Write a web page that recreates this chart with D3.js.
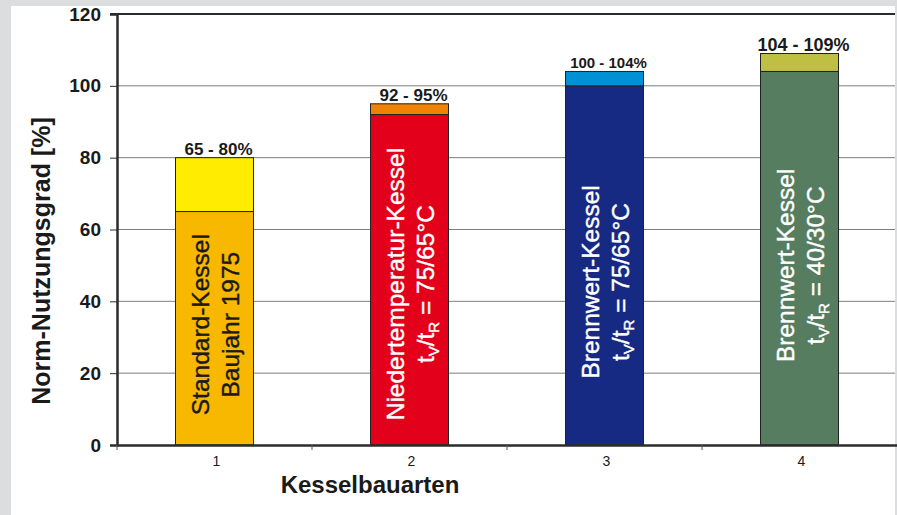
<!DOCTYPE html>
<html>
<head>
<meta charset="utf-8">
<script src="https://cdn.jsdelivr.net/npm/d3@7"></script>
<style>
  body { margin: 0; background: #dcdddf; }
  svg { display: block; font-family: "Liberation Sans", Arial, sans-serif; }
</style>
</head>
<body>
<div id="chart"></div>
<script>
// data
var categories = ["1", "2", "3", "4"];
var lowValues = [65, 92, 100, 104];
var highValues = [80, 95, 104, 109];
var rangeLabels = ["65 - 80%", "92 - 95%", "100 - 104%", "104 - 109%"];
var nameLines = ["Standard-Kessel", "Niedertemperatur-Kessel", "Brennwert-Kessel", "Brennwert-Kessel"];
var detailLines = ["Baujahr 1975", "75/65°C", "75/65°C", "40/30°C"];
var yTicks = [0, 20, 40, 60, 80, 100, 120];

// styles / layout
var lowColors = ["#f9b800", "#e2001a", "#172a83", "#567d5f"];
var highColors = ["#ffec00", "#ef8200", "#0090d4", "#bfbf44"];
var textColors = ["#1a1a1a", "#fff", "#fff", "#fff"];
var rangeFont = [17, 17, 15, 18];
var labelMid = [33.5, 44.8, 45.4, 50];   // label centre, in axis units

var W = 897, H = 515;
var svg = d3.select("#chart").append("svg")
    .attr("width", W)
    .attr("height", H);

// white panel
svg.append("rect")
    .attr("x", 11).attr("y", 6)
    .attr("width", 884).attr("height", H - 6)
    .attr("fill", "#fff");

var x = d3.scaleBand()
    .domain(categories)
    .range([117, 897])
    .paddingInner(0.6)
    .paddingOuter(0.3);

var y = d3.scaleLinear()
    .domain([0, 120])
    .range([445, 14]);

// gridlines
svg.append("g")
    .selectAll("line")
    .data(yTicks.filter(d => d > 0 && d < 120))
    .enter().append("line")
    .attr("x1", 117).attr("x2", 895)
    .attr("y1", d => y(d)).attr("y2", d => y(d))
    .attr("stroke", "#7d7d7d")
    .attr("stroke-width", 1);

// top line
svg.append("line")
    .attr("x1", 110).attr("x2", 895)
    .attr("y1", y(120)).attr("y2", y(120))
    .attr("stroke", "#2b2b2b").attr("stroke-width", 2);

// bars
var bars = svg.append("g")
    .selectAll("g")
    .data(categories)
    .enter().append("g");

bars.append("rect")
    .attr("x", (d, i) => x(d))
    .attr("y", (d, i) => y(lowValues[i]))
    .attr("width", x.bandwidth())
    .attr("height", (d, i) => y(0) - y(lowValues[i]))
    .attr("fill", (d, i) => lowColors[i])
    .attr("stroke", "#222")
    .attr("stroke-width", 1);

bars.append("rect")
    .attr("x", (d, i) => x(d))
    .attr("y", (d, i) => y(highValues[i]))
    .attr("width", x.bandwidth())
    .attr("height", (d, i) => y(lowValues[i]) - y(highValues[i]))
    .attr("fill", (d, i) => highColors[i])
    .attr("stroke", "#222")
    .attr("stroke-width", 1);

bars.append("text")
    .attr("x", (d, i) => x(d) + x.bandwidth() / 2 + 4)
    .attr("y", (d, i) => y(highValues[i]) - 3)
    .attr("text-anchor", "middle")
    .attr("font-weight", "bold")
    .attr("font-size", (d, i) => rangeFont[i] + "px")
    .attr("fill", "#1a1a1a")
    .text((d, i) => rangeLabels[i]);

// rotated labels inside bars
bars.each(function (d, i) {
    var g = d3.select(this);
    var cx = x(d) + x.bandwidth() / 2;
    var cy = y(labelMid[i]);
    var t = g.append("g")
        .attr("transform", "translate(" + cx + "," + cy + ") rotate(-90)")
        .attr("fill", textColors[i])
        .attr("stroke", textColors[i])
        .attr("stroke-width", 0.4)
        .attr("font-size", "24.5px")
        .attr("text-anchor", "middle");
    t.append("text")
        .attr("x", 0).attr("y", -6)
        .text(nameLines[i]);
    var l2 = t.append("text")
        .attr("x", 0).attr("y", 24);
    if (i === 0) {
        l2.text(detailLines[i]);
    } else {
        l2.append("tspan").text("t");
        l2.append("tspan").attr("font-size", "15px").attr("dy", 5).text("V");
        l2.append("tspan").attr("dy", -5).text("/t");
        l2.append("tspan").attr("font-size", "15px").attr("dy", 5).text("R");
        l2.append("tspan").attr("dy", -5).text(" = " + detailLines[i]);
    }
});

// y axis
var yAxis = svg.append("g")
    .attr("transform", "translate(117,0)")
    .call(d3.axisLeft(y).tickValues(yTicks).tickSize(7).tickPadding(9));
yAxis.select(".domain").attr("stroke", "#2b2b2b").attr("stroke-width", 2.5);
yAxis.selectAll(".tick line").attr("stroke", "#2b2b2b");
yAxis.selectAll(".tick text")
    .attr("font-family", "Liberation Sans, Arial, sans-serif")
    .attr("font-size", "19px")
    .attr("font-weight", "bold")
    .attr("fill", "#1a1a1a");

// x axis
var xAxis = svg.append("g")
    .attr("transform", "translate(0,445)")
    .call(d3.axisBottom(x).tickSize(0).tickPadding(11));
xAxis.select(".domain").attr("stroke", "#2b2b2b").attr("stroke-width", 2.5);
xAxis.selectAll(".tick text")
    .attr("font-family", "Liberation Sans, Arial, sans-serif")
    .attr("font-size", "14px")
    .attr("fill", "#1a1a1a")
    .attr("dx", 2);

// small ticks between categories
svg.append("g")
    .selectAll("line")
    .data(categories)
    .enter().append("line")
    .attr("x1", d => x(d) - x.step() * 0.3)
    .attr("x2", d => x(d) - x.step() * 0.3)
    .attr("y1", 445).attr("y2", 450)
    .attr("stroke", "#555").attr("stroke-width", 1);

// axis titles
svg.append("text")
    .attr("transform", "translate(50,261) rotate(-90)")
    .attr("text-anchor", "middle")
    .attr("font-size", "25px")
    .attr("font-weight", "bold")
    .attr("fill", "#1a1a1a")
    .text("Norm-Nutzungsgrad [%]");

svg.append("text")
    .attr("x", 370).attr("y", 493)
    .attr("text-anchor", "middle")
    .attr("font-size", "24px")
    .attr("font-weight", "bold")
    .attr("fill", "#1a1a1a")
    .text("Kesselbauarten");
</script>
</body>
</html>
